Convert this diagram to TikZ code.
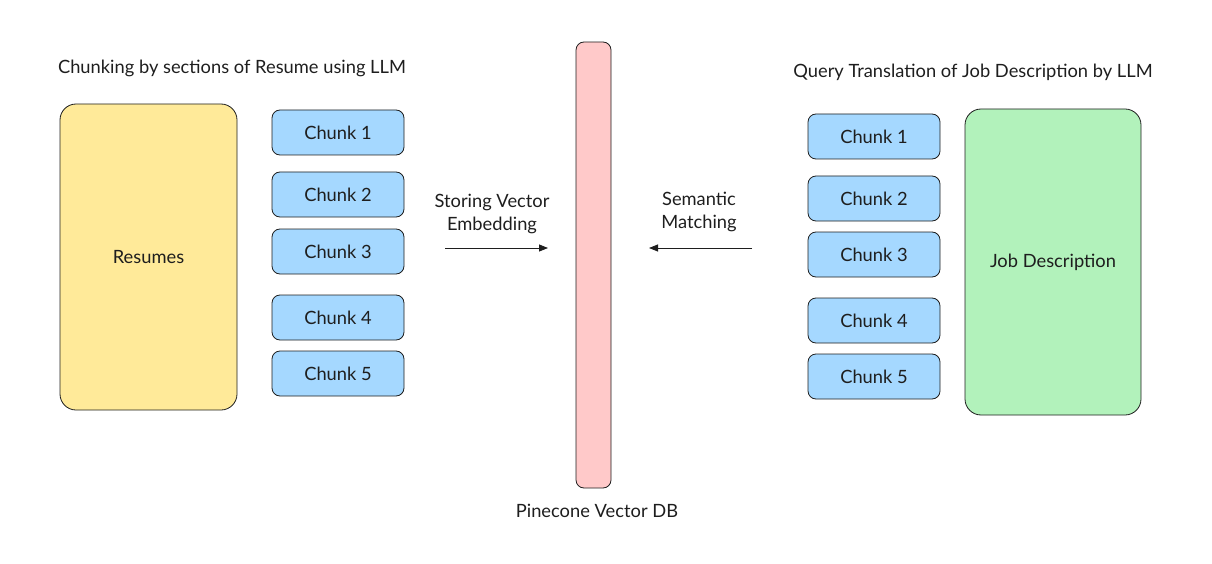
\documentclass[tikz,border=0pt]{standalone}
\usepackage{fontspec}
\setmainfont{Lato}
\usetikzlibrary{arrows.meta}
\definecolor{ink}{HTML}{1E1E1E}
\definecolor{cyel}{HTML}{FFEA99}
\definecolor{cblu}{HTML}{A5D8FF}
\definecolor{cred}{HTML}{FFC9C9}
\definecolor{cgrn}{HTML}{B2F2BB}
\tikzset{
  box/.style={draw=ink, line width=0.8pt, rounded corners=#1, inner sep=0pt, text=ink, font=\fontsize{18.3}{21}\selectfont},
  box/.default=8pt,
  chunkbox/.style={box=8pt, fill=cblu, minimum width=132pt, minimum height=45pt},
  lbl/.style={text=ink, font=\fontsize{18.3}{23}\selectfont, align=center, inner sep=0pt},
  arr/.style={draw=ink, line width=0.8pt, -{Triangle[length=9pt,width=7pt]}}
}
\begin{document}
\begin{tikzpicture}[x=1pt,y=-1pt]
\useasboundingbox (0,0) rectangle (1212,564);
% titles
\node[lbl] (tl) at (232,68) {Chunking by sections of Resume using LLM};
\node[lbl] (tr) at (973,72) {Query Translation of Job Description by LLM};
% left side
\node[box=16pt, fill=cyel, minimum width=177pt, minimum height=306pt] (res) at (148.5,257) {Resumes};
\node[chunkbox] (l1) at (338,132.5) {Chunk 1};
\node[chunkbox] (l2) at (338,194.5) {Chunk 2};
\node[chunkbox] (l3) at (338,251.5) {Chunk 3};
\node[chunkbox] (l4) at (338,317.5) {Chunk 4};
\node[chunkbox] (l5) at (338,373.5) {Chunk 5};
% DB
\node[box=8pt, fill=cred, minimum width=35pt, minimum height=446pt] (db) at (593.5,265) {};
\node[lbl] (dbl) at (597,511) {Pinecone Vector DB};
% right side
\node[chunkbox] (r1) at (874,136.5) {Chunk 1};
\node[chunkbox] (r2) at (874,198.5) {Chunk 2};
\node[chunkbox] (r3) at (874,254.5) {Chunk 3};
\node[chunkbox] (r4) at (874,320.5) {Chunk 4};
\node[chunkbox] (r5) at (874,376.5) {Chunk 5};
\node[box=16pt, fill=cgrn, minimum width=176pt, minimum height=306pt] (job) at (1053,262) {Job Description};
% arrows
\coordinate (a1s) at (445,248);
\coordinate (a1e) at (548,248);
\coordinate (a2s) at (752,248);
\coordinate (a2e) at (649,248);
\draw[arr] (a1s) -- (a1e);
\draw[arr] (a2s) -- (a2e);
\node[lbl] (al1) at (492,213.5) {Storing Vector\\Embedding};
\node[lbl] (al2) at (699,211.5) {Semantic\\Matching};
\end{tikzpicture}
\end{document}
